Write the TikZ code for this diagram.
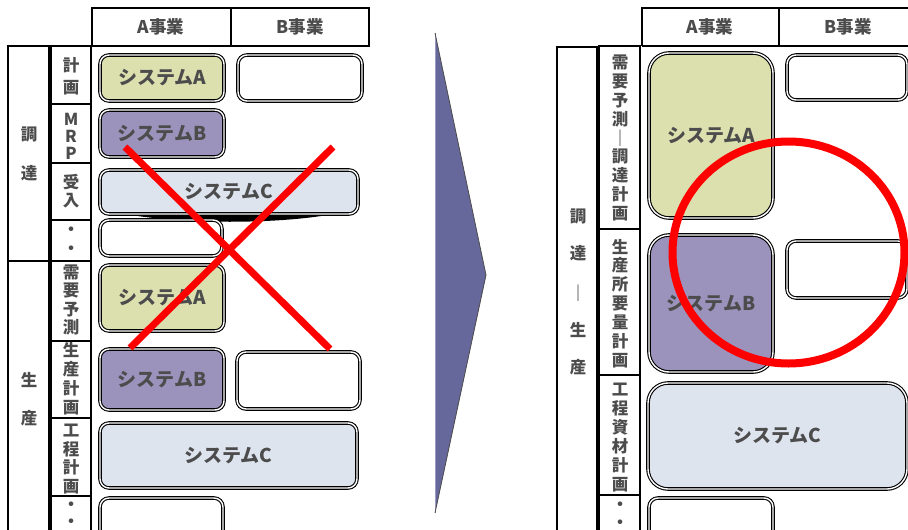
\documentclass[tikz,border=0pt]{standalone}
\usepackage{fontspec}
\setmainfont{Noto Sans CJK JP}
\definecolor{txt}{HTML}{4C4C4C}
\definecolor{fa}{HTML}{DCDFAE}
\definecolor{fb}{HTML}{9B93BC}
\definecolor{fc}{HTML}{DDE4EE}
\definecolor{arr}{HTML}{66679A}
\definecolor{arrlight}{HTML}{9A9AC4}
\begin{document}
\begin{tikzpicture}[x=1pt,y=-1pt,
  every node/.style={inner sep=0pt,outer sep=0pt,text=txt,font=\bfseries\fontsize{19}{22}\selectfont},
  sysbox/.style={draw=black,double=white,line width=1.1pt,double distance=1.4pt,rounded corners=9pt,align=center},
  bigbox/.style={sysbox,rounded corners=20pt},
  grid/.style={line width=2pt,draw=black},
  sep/.style={line width=2.8pt,draw=black},
  hdr/.style={font=\bfseries\fontsize{17.5}{20}\selectfont},
  vlab/.style={align=center,font=\bfseries\fontsize{16.5}{18.8}\selectfont},
  olab/.style={font=\bfseries\fontsize{16.5}{18}\selectfont},
  dotlab/.style={align=center,font=\bfseries\fontsize{16.5}{17.5}\selectfont},
  redline/.style={draw=red,line width=7pt},
]
\clip (0,0) rectangle (908,530);
\fill[white] (0,0) rectangle (908,530);

% ===================== LEFT =====================
% header
\draw[grid] (92,8) rectangle (369,46);
\draw[grid] (231,8) -- (231,46);
\node[hdr] (lhA) at (161,27) {A事業};
\node[hdr] (lhB) at (300,27) {B事業};
% outer column
\draw[grid] (8,46) rectangle (49,261);
\draw[grid] (8,545) -- (8,261) -- (49,261) -- (49,545);
\node[olab] (lo1) at (29,135) {調};
\node[olab] (lo2) at (29,173) {達};
\node[olab] (lo3) at (29,380) {生};
\node[olab] (lo4) at (29,418) {産};
% inner column
\draw[grid] (51,545) -- (51,46) -- (91,46) -- (91,545);
\draw[sep] (51,104) -- (91,104);
\draw[sep] (51,163) -- (91,163);
\draw[sep] (51,220) -- (91,220);
\draw[sep] (51,261) -- (91,261);
\draw[sep] (51,341) -- (91,341);
\draw[sep] (51,418) -- (91,418);
\draw[sep] (51,496) -- (91,496);
\node[vlab,font=\bfseries\fontsize{16.5}{22}\selectfont] (li1) at (71,76) {計\\画};
\node[vlab,font=\bfseries\fontsize{16.5}{17}\selectfont] (li2) at (71,136) {M\\R\\P};
\node[vlab,font=\bfseries\fontsize{16.5}{18}\selectfont] (li3) at (71,191) {受\\入};
\node[vlab] (li4) at (71,241) {・\\・};
\node[vlab,font=\bfseries\fontsize{16.5}{18.5}\selectfont] (li5) at (71,300) {需\\要\\予\\測};
\node[vlab,font=\bfseries\fontsize{16.5}{19}\selectfont] (li6) at (71,379) {生\\産\\計\\画};
\node[vlab,font=\bfseries\fontsize{16.5}{18.4}\selectfont] (li7) at (71,459) {工\\程\\計\\画};
\node[dotlab] (li8) at (71,514.5) {・\\・};
% shadow under system C
\fill[black] (104,209) .. controls (160,226) and (300,226) .. (354,209) -- cycle;
% boxes
\node[sysbox,fill=fa,minimum width=124,minimum height=46] (LA1) at (162,78) {システムA};
\node[sysbox,fill=white,minimum width=124,minimum height=46] (LE1) at (300,78) {};
\node[sysbox,fill=fb,minimum width=124,minimum height=47] (LB1) at (162,133.5) {システムB};
\node[sysbox,fill=fc,minimum width=258,minimum height=44] (LC1) at (229,192) {システムC};
\node[sysbox,fill=white,minimum width=122,minimum height=36] (LE2) at (161,238) {};
\node[sysbox,fill=fa,minimum width=124,minimum height=66] (LA2) at (162,298) {システムA};
\node[sysbox,fill=fb,minimum width=124,minimum height=61] (LB2) at (162,379.5) {システムB};
\node[sysbox,fill=white,minimum width=123,minimum height=57] (LE3) at (298.5,380.5) {};
\node[sysbox,fill=fc,minimum width=257,minimum height=65] (LC2) at (228.5,455.5) {システムC};
\node[sysbox,fill=white,minimum width=123,minimum height=48] (LE4) at (161.5,522) {};
% red X
\coordinate (x1a) at (125,147);
\coordinate (x1b) at (330,349);
\coordinate (x2a) at (333,147);
\coordinate (x2b) at (130,348);
\draw[redline] (x1a) -- (x1b);
\draw[redline] (x2a) -- (x2b);

% ===================== ARROW =====================
\coordinate (ar1) at (435,33);
\coordinate (ar2) at (486,275);
\coordinate (ar3) at (435,513);
\fill[arr] (ar1) -- (ar2) -- (ar3) -- cycle;
\draw[arrlight,line width=1pt] (ar1) -- (ar3);
\draw[black!70,line width=0.8pt] (ar1) -- (ar2) -- (ar3);

% ===================== RIGHT =====================
\draw[grid] (642,46) -- (642,8) -- (920,8);
\draw[grid] (642,46) -- (920,46);
\draw[grid] (779,8) -- (779,46);
\node[hdr] (rhA) at (710,27) {A事業};
\node[hdr] (rhB) at (848,27) {B事業};
% outer column
\draw[grid] (557,545) -- (557,47) -- (597,47) -- (597,545);
\node[olab] (ro1) at (578,217) {調};
\node[olab] (ro2) at (578,253) {達};
\node[olab] (ro3) at (578,293) {｜};
\node[olab] (ro4) at (578,330) {生};
\node[olab] (ro5) at (578,367) {産};
% inner column
\draw[grid] (599,545) -- (599,46) -- (640,46) -- (640,545);
\draw[sep] (599,229) -- (640,229);
\draw[sep] (599,375) -- (640,375);
\draw[sep] (599,495) -- (640,495);
\node[vlab,font=\bfseries\fontsize{16.5}{18.9}\selectfont] (ri1) at (620,138) {需\\要\\予\\測\\｜\\調\\達\\計\\画};
\node[vlab,font=\bfseries\fontsize{16.5}{18.9}\selectfont] (ri2) at (620,303.5) {生\\産\\所\\要\\量\\計\\画};
\node[vlab,font=\bfseries\fontsize{16.5}{19}\selectfont] (ri3) at (620,437.5) {工\\程\\資\\材\\計\\画};
\node[dotlab] (ri4) at (620,515) {・\\・};
% boxes
\node[bigbox,fill=fa,minimum width=124,minimum height=165] (RA) at (711,135.5) {システムA};
\node[sysbox,fill=white,minimum width=120,minimum height=45] (RE1) at (847,77.5) {};
\node[bigbox,fill=fb,minimum width=124,minimum height=137] (RB) at (711,303.5) {システムB};
\node[sysbox,fill=white,minimum width=120,minimum height=57] (RE2) at (847,269.5) {};
\node[bigbox,fill=fc,minimum width=259,minimum height=106] (RC) at (777.5,436) {システムC};
\node[sysbox,fill=white,minimum width=124,minimum height=48] (RE3) at (711,522) {};
% red circle
\coordinate (rc) at (788.5,252.5);
\draw[draw=red,line width=8pt] (rc) ellipse [x radius=116, y radius=111];
\end{tikzpicture}
\end{document}
